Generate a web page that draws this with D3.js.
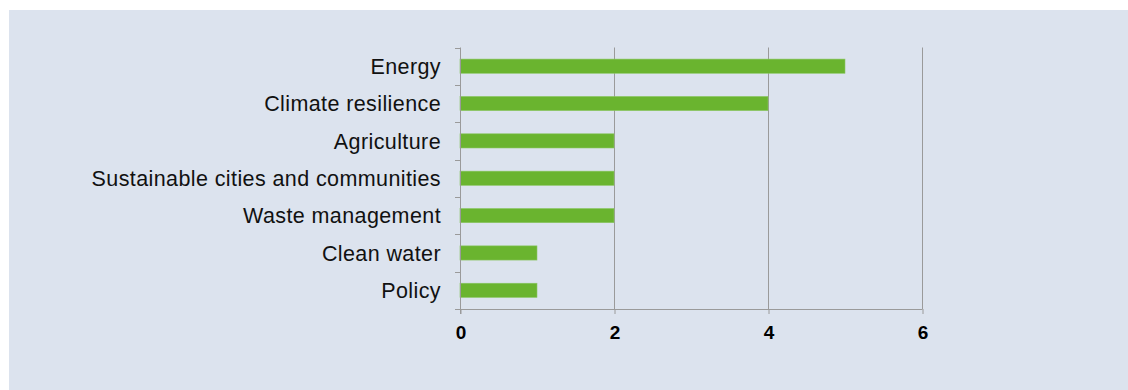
<!DOCTYPE html>
<html>
<head>
<meta charset="utf-8">
<script src="https://cdn.jsdelivr.net/npm/d3@7"></script>
<style>
  html, body { margin: 0; padding: 0; background: #ffffff; }
  svg { display: block; }
  text { font-family: "Liberation Sans", Arial, sans-serif; }
</style>
</head>
<body>
<svg id="chart" width="1128" height="390"></svg>
<script>
// Number of projects per theme
const categories = ["Energy", "Climate resilience", "Agriculture",
  "Sustainable cities and communities", "Waste management", "Clean water", "Policy"];
const values = [5, 4, 2, 2, 2, 1, 1];
const xTicks = [0, 2, 4, 6];

const svg = d3.select("#chart");
const W = 1128, H = 390;

// panel background
svg.append("rect")
  .attr("x", 9).attr("y", 10)
  .attr("width", W - 9).attr("height", H - 10)
  .attr("fill", "#dce3ee");

const plotLeft = 460, plotRight = 922, plotTop = 47.5, plotBottom = 309;

const x = d3.scaleLinear().domain([0, 6]).range([plotLeft, plotRight]);
const y = d3.scaleBand().domain(categories).range([plotTop, plotBottom])
  .paddingInner(0.62).paddingOuter(0.31);

// vertical gridlines
svg.append("g").selectAll("line")
  .data(xTicks.filter(d => d > 0))
  .join("line")
  .attr("x1", d => Math.round(x(d)) + 0.5).attr("x2", d => Math.round(x(d)) + 0.5)
  .attr("y1", plotTop).attr("y2", plotBottom)
  .attr("stroke", "#9a9a9a").attr("stroke-width", 1);

// bars
svg.append("g").selectAll("rect")
  .data(categories)
  .join("rect")
  .attr("x", x(0))
  .attr("y", d => y(d))
  .attr("width", (d, i) => x(values[i]) - x(0))
  .attr("height", y.bandwidth())
  .attr("fill", "#6ab42f")
  .attr("stroke", "#8cc765").attr("stroke-width", 0.6);

// y axis line with category separator ticks
const yAxisG = svg.append("g");
yAxisG.append("line")
  .attr("x1", plotLeft + 0.5).attr("x2", plotLeft + 0.5)
  .attr("y1", plotTop).attr("y2", plotBottom + 5)
  .attr("stroke", "#9a9a9a");
const step = (plotBottom - plotTop) / categories.length;
yAxisG.selectAll("line.sep")
  .data(d3.range(categories.length + 1))
  .join("line").attr("class", "sep")
  .attr("x1", plotLeft - 5).attr("x2", plotLeft + 0.5)
  .attr("y1", i => Math.round(plotTop + i * step) + 0.5)
  .attr("y2", i => Math.round(plotTop + i * step) + 0.5)
  .attr("stroke", "#9a9a9a");

// category labels
svg.append("g").selectAll("text")
  .data(categories)
  .join("text")
  .attr("x", 441)
  .attr("y", d => y(d) + y.bandwidth() / 2)
  .attr("dy", "0.36em")
  .attr("text-anchor", "end")
  .attr("font-size", "21.5px")
  .attr("letter-spacing", "0.4px")
  .attr("fill", "#111")
  .text(d => d);

// x axis
const xAxis = d3.axisBottom(x).tickValues(xTicks).tickSize(5).tickFormat(d3.format("d"));
const xg = svg.append("g")
  .attr("transform", `translate(0.5,${plotBottom})`)
  .call(xAxis);
xg.select(".domain").attr("stroke", "#9a9a9a").attr("d", `M${plotLeft - 5},0.5H${plotRight}`);
xg.selectAll(".tick line").attr("stroke", "#9a9a9a");
xg.selectAll(".tick text")
  .attr("y", 17)
  .attr("font-size", "19px")
  .attr("font-weight", "bold")
  .attr("fill", "#000")
  .attr("font-family", "'Liberation Sans', Arial, sans-serif");
</script>
</body>
</html>
